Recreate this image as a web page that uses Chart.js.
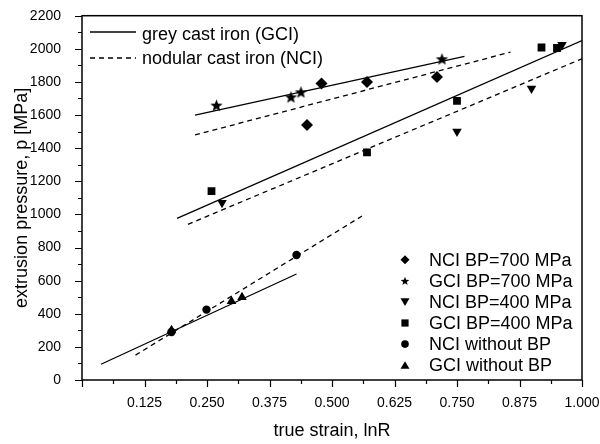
<!DOCTYPE html>
<html>
<head>
<meta charset="utf-8">
<script src="https://cdn.jsdelivr.net/npm/chart.js@4/dist/chart.umd.min.js"></script>
<style>
  html, body { margin: 0; padding: 0; background: #fff; }
  #wrap { width: 600px; height: 444px; }
</style>
</head>
<body>
<div id="wrap"><canvas id="pressureChart"></canvas></div>
<script>
// measured points (true strain lnR, extrusion pressure MPa)
const nci700X = [0.450, 0.479, 0.570, 0.710];
const nci700Y = [1540, 1790, 1800, 1830];
const gci700X = [0.269, 0.418, 0.438, 0.720];
const gci700Y = [1660, 1710, 1740, 1940];
const nci400X = [0.280, 0.750, 0.899, 0.960];
const nci400Y = [1070, 1500, 1760, 2025];
const gci400X = [0.259, 0.570, 0.750, 0.919, 0.950];
const gci400Y = [1140, 1375, 1685, 2008, 2005];
const nciNoBpX = [0.179, 0.249, 0.429];
const nciNoBpY = [290, 425, 755];
const gciNoBpX = [0.179, 0.299, 0.320];
const gciNoBpY = [300, 475, 500];

// fitted lines (end points)
const gci700FitX = [0.226, 0.765];
const gci700FitY = [1600, 1955];
const nci700FitX = [0.226, 0.857];
const nci700FitY = [1480, 1980];
const gci400FitX = [0.190, 1.000];
const gci400FitY = [976, 2050];
const nci400FitX = [0.212, 1.000];
const nci400FitY = [940, 1940];
const gciNoBpFitX = [0.038, 0.429];
const gciNoBpFitY = [95, 640];
const nciNoBpFitX = [0.107, 0.560];
const nciNoBpFitY = [150, 990];

const lineLegend = ['grey cast iron (GCI)', 'nodular cast iron (NCI)'];
const xTickStep = 0.125;
const yTickStep = 200;

const FONT = "'Liberation Sans', Arial, sans-serif";
Chart.defaults.font.family = FONT;
Chart.defaults.color = '#000';

function pts(xs, ys) {
    return xs.map((x, i) => ({ x: x, y: ys[i] }));
}

// filled five point star, used as point style
function makeStar(r) {
    const c = document.createElement('canvas');
    const s = Math.ceil(r * 2) + 2;
    c.width = s; c.height = s;
    const g = c.getContext('2d');
    starPath(g, s / 2, s / 2 + r * 0.1, r);
    g.fillStyle = '#000';
    g.fill();
    return c;
}
function starPath(g, cx, cy, r) {
    g.beginPath();
    for (let i = 0; i < 10; i++) {
        const rr = i % 2 === 0 ? r : r * 0.42;
        const a = -Math.PI / 2 + i * Math.PI / 5;
        g.lineTo(cx + rr * Math.cos(a), cy + rr * Math.sin(a));
    }
    g.closePath();
}

const starImg = makeStar(6.5);

function markerSet(label, xs, ys, style, radius, rotation) {
    return {
        label: label,
        data: pts(xs, ys),
        pointStyle: style,
        pointRadius: radius,
        pointRotation: rotation || 0,
        backgroundColor: '#000',
        borderColor: '#000',
        borderWidth: 0,
        showLine: false,
        isMarker: true
    };
}
function fitSet(xs, ys, dashed) {
    return {
        data: pts(xs, ys),
        showLine: true,
        borderColor: '#000',
        borderWidth: 1.3,
        borderDash: dashed ? [5, 4] : [],
        pointRadius: 0,
        isMarker: false
    };
}

// draw a small marker for the legend
function drawMarker(ctx, style, x, y, r) {
    ctx.fillStyle = '#000';
    ctx.beginPath();
    if (style === 'diamond') {
        ctx.moveTo(x, y - r); ctx.lineTo(x + r, y); ctx.lineTo(x, y + r); ctx.lineTo(x - r, y);
    } else if (style === 'star') {
        starPath(ctx, x, y + 0.5, r);
    } else if (style === 'down') {
        ctx.moveTo(x - r, y - r * 0.8); ctx.lineTo(x + r, y - r * 0.8); ctx.lineTo(x, y + r * 0.9);
    } else if (style === 'up') {
        ctx.moveTo(x - r, y + r * 0.8); ctx.lineTo(x + r, y + r * 0.8); ctx.lineTo(x, y - r * 0.9);
    } else if (style === 'square') {
        ctx.rect(x - r * 0.8, y - r * 0.8, r * 1.6, r * 1.6);
    } else {
        ctx.arc(x, y, r * 0.85, 0, Math.PI * 2);
    }
    ctx.closePath();
    ctx.fill();
}

const legendStyles = ['diamond', 'star', 'down', 'square', 'circle', 'up'];

const framePlugin = {
    id: 'frame',
    afterDraw(chart) {
        const ctx = chart.ctx;
        const a = chart.chartArea;
        const xs = chart.scales.x, ys = chart.scales.y;
        ctx.save();
        ctx.strokeStyle = '#000';
        ctx.lineWidth = 1.5;
        ctx.setLineDash([]);
        ctx.strokeRect(a.left, a.top, a.right - a.left, a.bottom - a.top);

        // outward ticks, major and minor
        ctx.lineWidth = 1.2;
        ctx.beginPath();
        for (let v = 0; v <= 1.0001; v += xTickStep / 2) {
            const px = Math.round(xs.getPixelForValue(v)) + 0.5;
            const major = Math.abs(v / xTickStep - Math.round(v / xTickStep)) < 1e-6;
            ctx.moveTo(px, a.bottom);
            ctx.lineTo(px, a.bottom + (major ? 7 : 4));
        }
        for (let v = 0; v <= 2200; v += yTickStep / 2) {
            const py = Math.round(ys.getPixelForValue(v)) + 0.5;
            const major = v % yTickStep === 0;
            ctx.moveTo(a.left, py);
            ctx.lineTo(a.left - (major ? 7 : 4), py);
        }
        ctx.stroke();

        // line legend, top left
        ctx.font = '18px ' + FONT;
        ctx.fillStyle = '#000';
        ctx.textAlign = 'left';
        ctx.textBaseline = 'alphabetic';
        ctx.lineWidth = 1.3;
        lineLegend.forEach((t, i) => {
            const y = 32 + i * 26;
            ctx.setLineDash(i === 0 ? [] : [5, 4]);
            ctx.beginPath();
            ctx.moveTo(90, y);
            ctx.lineTo(136, y);
            ctx.stroke();
            ctx.fillText(t, 142, 40 + i * 23.5);
        });
        ctx.setLineDash([]);

        // marker legend, bottom right
        const markers = chart.data.datasets.filter(d => d.isMarker);
        markers.forEach((d, i) => {
            const base = 265.7 + i * 21.1;
            drawMarker(ctx, legendStyles[i], 405, base - 6, 4.5);
            ctx.fillText(d.label, 429, base);
        });
        ctx.restore();
    }
};

const ctx = document.getElementById('pressureChart').getContext('2d');
new Chart(ctx, {
    type: 'scatter',
    data: {
        datasets: [
            markerSet('NCI BP=700 MPa', nci700X, nci700Y, 'rectRot', 6),
            markerSet('GCI BP=700 MPa', gci700X, gci700Y, starImg, 6),
            markerSet('NCI BP=400 MPa', nci400X, nci400Y, 'triangle', 5.5, 180),
            markerSet('GCI BP=400 MPa', gci400X, gci400Y, 'rect', 5.5),
            markerSet('NCI without BP', nciNoBpX, nciNoBpY, 'circle', 4.2),
            markerSet('GCI without BP', gciNoBpX, gciNoBpY, 'triangle', 5.5),
            fitSet(gci700FitX, gci700FitY, false),
            fitSet(nci700FitX, nci700FitY, true),
            fitSet(gci400FitX, gci400FitY, false),
            fitSet(nci400FitX, nci400FitY, true),
            fitSet(gciNoBpFitX, gciNoBpFitY, false),
            fitSet(nciNoBpFitX, nciNoBpFitY, true)
        ]
    },
    options: {
        responsive: true,
        maintainAspectRatio: false,
        animation: false,
        layout: { padding: { left: 0, top: 15.7, right: 18, bottom: 0 } },
        plugins: {
            legend: { display: false },
            tooltip: { enabled: false }
        },
        scales: {
            x: {
                type: 'linear',
                min: 0,
                max: 1,
                grid: { display: false },
                border: { display: false },
                ticks: {
                    stepSize: xTickStep,
                    autoSkip: false,
                    maxRotation: 0,
                    padding: 7,
                    font: { size: 14 },
                    callback: v => v === 0 ? '' : v.toFixed(3)
                },
                title: {
                    display: true,
                    text: 'true strain, lnR',
                    font: { size: 18 },
                    padding: { top: 0, bottom: 2 }
                },
                afterFit(scale) {
                    scale.height = 64;
                    scale.paddingLeft = 0;
                    scale.paddingRight = 0;
                }
            },
            y: {
                min: 0,
                max: 2200,
                grid: { display: false },
                border: { display: false },
                ticks: {
                    stepSize: yTickStep,
                    padding: 13,
                    font: { size: 14 },
                    callback: v => String(v)
                },
                title: {
                    display: true,
                    text: 'extrusion pressure, p [MPa]',
                    font: { size: 18 },
                    padding: { top: 11, bottom: 0 }
                },
                afterFit(scale) {
                    scale.width = 82;
                    scale.paddingTop = 0;
                    scale.paddingBottom = 0;
                }
            }
        }
    },
    plugins: [framePlugin]
});
</script>
</body>
</html>
